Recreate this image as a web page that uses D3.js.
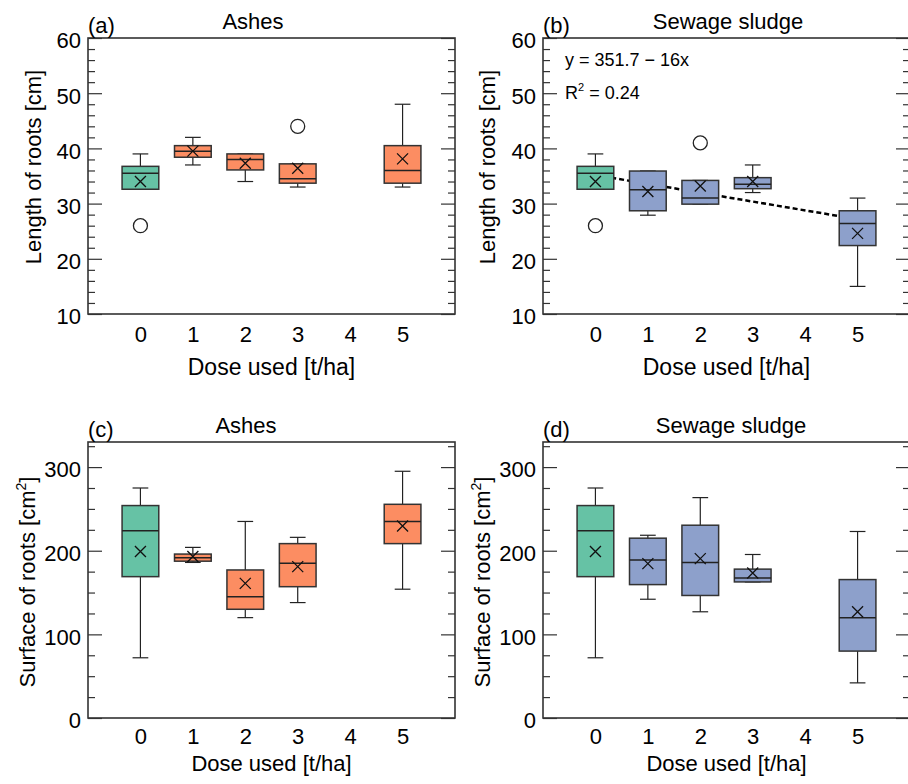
<!DOCTYPE html>
<html>
<head>
<meta charset="utf-8">
<script src="https://cdn.jsdelivr.net/npm/d3@7"></script>
<style>
	body { margin: 0; background: #fff; }
	text { font-family: 'Liberation Sans', Arial, sans-serif; fill: #000; }
</style>
</head>
<body>
<script>
var doses = [0, 1, 2, 3, 5];
var xTicks = [0, 1, 2, 3, 4, 5];

// each row: low whisker, q1, median, q3, high whisker, mean
var lengthAshes = [
	[32.6, 32.6, 35.5, 36.75, 39, 34],
	[37, 38.4, 39.5, 40.5, 42, 39.5],
	[34, 36.1, 38, 39, 39, 37.3],
	[33, 33.7, 34.5, 37.2, 37.2, 36.4],
	[33, 33.7, 36, 40.5, 48, 38.1]
];
var lengthAshesOut = [[0, 26], [3, 44]];

var lengthSludge = [
	[32.6, 32.6, 35.5, 36.75, 39, 34],
	[27.9, 28.7, 32.5, 35.9, 35.9, 32.2],
	[29.9, 29.9, 31, 34.2, 34.2, 33.2],
	[32, 32.7, 33.5, 34.7, 37, 34],
	[15, 22.4, 26.4, 28.7, 31, 24.6]
];
var lengthSludgeOut = [[0, 26], [2, 41]];

var surfaceAshes = [
	[72, 169, 224, 254, 275, 199],
	[186, 187.5, 191.5, 196, 204, 193],
	[120, 130, 145, 177, 235, 161],
	[138, 157, 185, 208.5, 216, 181],
	[154, 208.5, 235, 255.5, 295, 229.5]
];

var surfaceSludge = [
	[72, 169, 224, 254, 275, 199],
	[142, 159.5, 189, 215, 218.5, 184.6],
	[127, 146.5, 186, 230.5, 263.5, 190.6],
	[162.7, 162.7, 167.5, 178, 195.5, 173.4],
	[42, 80, 120, 165.5, 223, 127]
];

var lengthMajor = [10, 20, 30, 40, 50, 60];
var lengthMinor = d3.range(12, 60, 2).filter(function (v) { return v % 10 !== 0; });
var surfaceMajor = [0, 100, 200, 300];
var surfaceMinor = d3.range(25, 330, 25).filter(function (v) { return v % 100 !== 0; });

var trendIntercept = 35.17;
var trendSlope = -1.6;

var colors = { control: '#66c2a5', ashes: '#fc8d62', sludge: '#8da0cb' };

var panelWidth = 367;
var panelHeight = 276;

var svg = d3.select('body').append('svg')
	.attr('width', 908)
	.attr('height', 784);

var styleAxis = function (sel, size) {
	sel.select('.domain').remove();
	sel.selectAll('line').attr('stroke', '#333').attr('stroke-width', 1.2);
	sel.selectAll('text')
		.attr('font-family', null)
		.style('font-size', size + 'px');
};

var renderPanel = function (p) {
	var g = svg.append('g')
		.attr('transform', 'translate(' + p.left + ',' + p.top + ')');

	var x = d3.scaleLinear().domain([-1, 6]).range([0, panelWidth]);
	var y = d3.scaleLinear().domain(p.domain).range([panelHeight, 0]);

	g.append('g')
		.call(d3.axisLeft(y).tickValues(p.minor).tickSizeInner(-7).tickSizeOuter(0).tickFormat(''))
		.call(styleAxis, 22);
	g.append('g')
		.call(d3.axisLeft(y).tickValues(p.major).tickSizeInner(-14).tickSizeOuter(0).tickPadding(7))
		.call(styleAxis, 22)
		.selectAll('text').attr('dy', '0.45em');
	g.append('g')
		.attr('transform', 'translate(' + panelWidth + ',0)')
		.call(d3.axisRight(y).tickValues(p.minor).tickSizeInner(-7).tickSizeOuter(0).tickFormat(''))
		.call(styleAxis, 22);
	g.append('g')
		.attr('transform', 'translate(' + panelWidth + ',0)')
		.call(d3.axisRight(y).tickValues(p.major).tickSizeInner(-14).tickSizeOuter(0).tickFormat(''))
		.call(styleAxis, 22);
	g.append('g')
		.attr('transform', 'translate(0,' + panelHeight + ')')
		.call(d3.axisBottom(x).tickValues(xTicks).tickSize(0).tickPadding(p.xTickPad).tickFormat(d3.format('d')))
		.call(styleAxis, 22);

	if (p.trend) {
		var line = d3.line()
			.x(function (d) { return x(d); })
			.y(function (d) { return y(trendIntercept + trendSlope * d); });
		g.append('path')
			.attr('d', line([0, 5]))
			.attr('fill', 'none')
			.attr('stroke', '#000')
			.attr('stroke-width', 2.5)
			.attr('stroke-dasharray', '5,3');
	}

	var boxW = x(0.35) - x(0);
	var capW = x(0.15) - x(0);
	var boxes = g.selectAll('.box')
		.data(p.stats)
		.enter().append('g')
		.attr('class', 'box')
		.attr('transform', function (d, i) { return 'translate(' + x(doses[i]) + ',0)'; });

	boxes.append('line')
		.attr('y1', function (d) { return y(d[0]); })
		.attr('y2', function (d) { return y(d[4]); })
		.attr('stroke', '#222').attr('stroke-width', 1.2);
	boxes.append('line')
		.attr('x1', -capW).attr('x2', capW)
		.attr('y1', function (d) { return y(d[0]); })
		.attr('y2', function (d) { return y(d[0]); })
		.attr('stroke', '#222').attr('stroke-width', 1.2);
	boxes.append('line')
		.attr('x1', -capW).attr('x2', capW)
		.attr('y1', function (d) { return y(d[4]); })
		.attr('y2', function (d) { return y(d[4]); })
		.attr('stroke', '#222').attr('stroke-width', 1.2);
	boxes.append('rect')
		.attr('x', -boxW)
		.attr('width', 2 * boxW)
		.attr('y', function (d) { return y(d[3]); })
		.attr('height', function (d) { return y(d[1]) - y(d[3]); })
		.attr('fill', function (d, i) { return i === 0 ? colors.control : p.color; })
		.attr('stroke', '#333')
		.attr('stroke-width', 1.5);
	boxes.append('line')
		.attr('x1', -boxW).attr('x2', boxW)
		.attr('y1', function (d) { return y(d[2]); })
		.attr('y2', function (d) { return y(d[2]); })
		.attr('stroke', '#222').attr('stroke-width', 1.5);
	boxes.append('path')
		.attr('d', function (d) {
			var cy = y(d[5]), s = 5.5;
			return 'M' + (-s) + ',' + (cy - s) + 'L' + s + ',' + (cy + s) +
				'M' + s + ',' + (cy - s) + 'L' + (-s) + ',' + (cy + s);
		})
		.attr('stroke', '#111')
		.attr('stroke-width', 1.3);

	g.selectAll('.outlier')
		.data(p.outliers || [])
		.enter().append('circle')
		.attr('class', 'outlier')
		.attr('cx', function (d) { return x(d[0]); })
		.attr('cy', function (d) { return y(d[1]); })
		.attr('r', 7)
		.attr('fill', '#fff')
		.attr('stroke', '#222')
		.attr('stroke-width', 1.3);

	g.append('rect')
		.attr('width', panelWidth)
		.attr('height', panelHeight)
		.attr('fill', 'none')
		.attr('stroke', '#333')
		.attr('stroke-width', 1.6);

	g.append('text')
		.attr('x', 0)
		.attr('y', -5)
		.style('font-size', '22px')
		.text(p.letter);
	g.append('text')
		.attr('x', p.titleX)
		.attr('y', -9)
		.attr('text-anchor', 'middle')
		.style('font-size', '22px')
		.text(p.title);
	g.append('text')
		.attr('x', panelWidth / 2)
		.attr('y', panelHeight + p.xTitleY)
		.attr('text-anchor', 'middle')
		.style('font-size', p.xTitleSize + 'px')
		.text('Dose used [t/ha]');

	var yt = g.append('text')
		.attr('transform', 'translate(' + p.yTitleX + ',' + p.yTitleY + ') rotate(-90)')
		.attr('text-anchor', 'middle')
		.style('font-size', '22px');
	if (p.squared) {
		yt.append('tspan').text('Surface of roots [cm');
		yt.append('tspan').attr('dy', -9).style('font-size', '14px').text('2');
		yt.append('tspan').attr('dy', 9).text(']');
	} else {
		yt.text('Length of roots [cm]');
	}

	if (p.trend) {
		g.append('text')
			.attr('x', 22)
			.attr('y', 28)
			.style('font-size', '18px')
			.text('y = 351.7 \u2212 16x');
		var r2 = g.append('text')
			.attr('x', 22)
			.attr('y', 61)
			.style('font-size', '18px');
		r2.append('tspan').text('R');
		r2.append('tspan').attr('dy', -8).style('font-size', '11px').text('2');
		r2.append('tspan').attr('dy', 8).text(' = 0.24');
	}
};

renderPanel({
	left: 88, top: 38, domain: [10, 60], major: lengthMajor, minor: lengthMinor,
	stats: lengthAshes, outliers: lengthAshesOut, color: colors.ashes,
	letter: '(a)', title: 'Ashes', titleX: 165,
	xTickPad: 12, xTitleY: 61, xTitleSize: 23,
	yTitleX: -47, yTitleY: 129
});
renderPanel({
	left: 543, top: 38, domain: [10, 60], major: lengthMajor, minor: lengthMinor,
	stats: lengthSludge, outliers: lengthSludgeOut, color: colors.sludge, trend: true,
	letter: '(b)', title: 'Sewage sludge', titleX: 185,
	xTickPad: 12, xTitleY: 61, xTitleSize: 23,
	yTitleX: -48, yTitleY: 129
});
renderPanel({
	left: 88, top: 442, domain: [0, 330], major: surfaceMajor, minor: surfaceMinor,
	stats: surfaceAshes, color: colors.ashes,
	letter: '(c)', title: 'Ashes', titleX: 158,
	xTickPad: 10, xTitleY: 53, xTitleSize: 22,
	yTitleX: -53, yTitleY: 140, squared: true
});
renderPanel({
	left: 543, top: 442, domain: [0, 330], major: surfaceMajor, minor: surfaceMinor,
	stats: surfaceSludge, color: colors.sludge,
	letter: '(d)', title: 'Sewage sludge', titleX: 188,
	xTickPad: 10, xTitleY: 53, xTitleSize: 22,
	yTitleX: -53, yTitleY: 140, squared: true
});
</script>
</body>
</html>
